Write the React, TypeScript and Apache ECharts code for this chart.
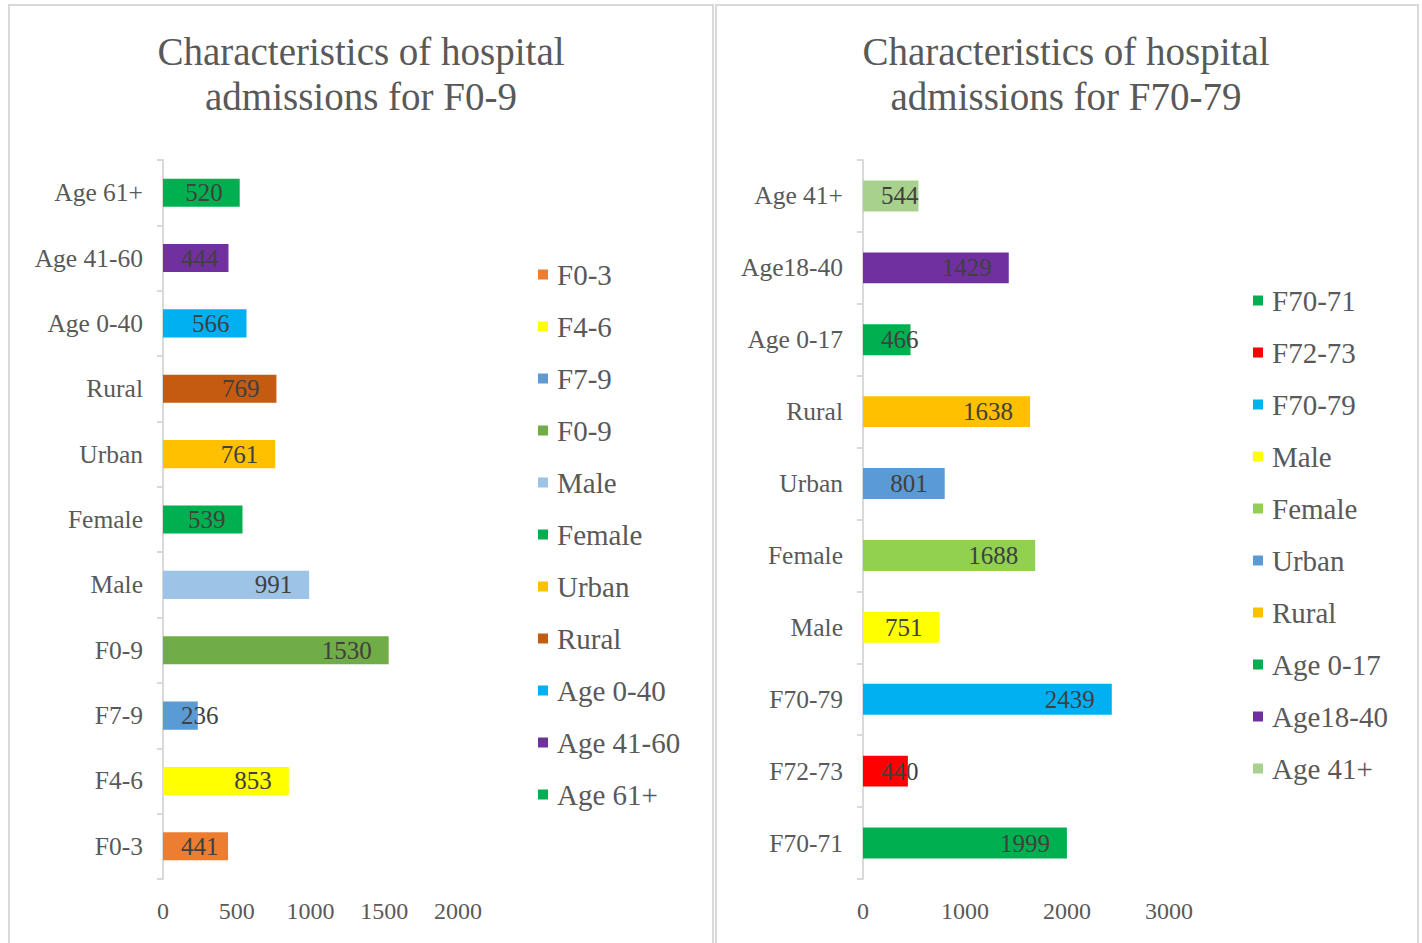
import React, { useEffect, useRef } from "react";
import * as echarts from "echarts";

const FONT = "Liberation Serif, Times New Roman, serif";

const leftTitle = "Characteristics of hospital\nadmissions for F0-9";
const leftCats = ["F0-3", "F4-6", "F7-9", "F0-9", "Male", "Female", "Urban", "Rural", "Age 0-40", "Age 41-60", "Age 61+"];
const leftValues = [441, 853, 236, 1530, 991, 539, 761, 769, 566, 444, 520];
const leftColors = ["#ED7D31", "#FFFF00", "#5B9BD5", "#70AD47", "#9DC3E6", "#00B050", "#FFC000", "#C55A11", "#00B0F0", "#7030A0", "#00B050"];
const leftTicks = [0, 500, 1000, 1500, 2000];

const rightTitle = "Characteristics of hospital\nadmissions for F70-79";
const rightCats = ["F70-71", "F72-73", "F70-79", "Male", "Female", "Urban", "Rural", "Age 0-17", "Age18-40", "Age 41+"];
const rightValues = [1999, 440, 2439, 751, 1688, 801, 1638, 466, 1429, 544];
const rightColors = ["#00B050", "#FF0000", "#00B0F0", "#FFFF00", "#92D050", "#5B9BD5", "#FFC000", "#00B050", "#7030A0", "#A9D18E"];
const rightTicks = [0, 1000, 2000, 3000];

type Cfg = {
  title: string;
  titleX: number;
  cats: string[];
  values: number[];
  colors: string[];
  ticks: number[];
  gridLeft: number;
  gridWidth: number;
  legendLeft: number;
  legendTop: number;
  border: { x: number; y: number; width: number; height: number };
};

const LABEL_FS = 25;

function buildOption(c: Cfg) {
  const max = c.ticks[c.ticks.length - 1];
  const interval = c.ticks[1] - c.ticks[0];
  const pxPerUnit = c.gridWidth / max;
  const series = c.cats.map((name, i) => {
    const v = c.values[i];
    const textW = String(v).length * LABEL_FS * 0.5;
    const fitsRight = v * pxPerUnit - 17 - textW >= 17;
    return {
      name,
      type: "bar",
      stack: "all",
      barWidth: "43%",
      itemStyle: { color: c.colors[i] },
      label: {
        show: true,
        position: fitsRight ? "insideRight" : "insideLeft",
        distance: fitsRight ? 17 : 18,
        color: "#404040",
        fontFamily: FONT,
        fontSize: LABEL_FS,
      },
      data: c.cats.map((_, j) => (j === i ? v : null)),
    };
  });
  return {
    animation: false,
    backgroundColor: "#ffffff",
    textStyle: { fontFamily: FONT },
    graphic: [
      {
        type: "rect",
        shape: c.border,
        style: { fill: "none", stroke: "#d9d9d9", lineWidth: 2 },
        z: -1,
      },
      {
        type: "text",
        x: c.titleX,
        y: 29,
        style: {
          text: c.title,
          align: "center",
          verticalAlign: "top",
          fontFamily: FONT,
          fontSize: 39,
          lineHeight: 45,
          fill: "#595959",
        },
      },
    ],
    legend: {
      orient: "vertical",
      left: c.legendLeft,
      top: c.legendTop,
      icon: "rect",
      itemWidth: 10,
      itemHeight: 10,
      itemGap: 23,
      data: c.cats.slice(),
      textStyle: { fontFamily: FONT, fontSize: 29, color: "#595959", padding: [0, 0, 0, 4] },
    },
    grid: { left: c.gridLeft, top: 160, width: c.gridWidth, height: 719 },
    xAxis: {
      type: "value",
      min: 0,
      max,
      interval,
      axisLine: { show: false },
      axisTick: { show: false },
      splitLine: { show: false },
      axisLabel: {
        color: "#595959",
        fontFamily: FONT,
        fontSize: 24,
        margin: 20,
        formatter: (v: number) => String(v),
      },
    },
    yAxis: {
      type: "category",
      data: c.cats,
      axisLine: { show: true, lineStyle: { color: "#d9d9d9", width: 2 } },
      axisTick: { show: true, length: 6, lineStyle: { color: "#d9d9d9", width: 2 } },
      axisLabel: { color: "#595959", fontFamily: FONT, fontSize: 25.5, margin: 20 },
    },
    series,
  };
}

const leftCfg: Cfg = {
  title: leftTitle,
  titleX: 361,
  cats: leftCats,
  values: leftValues,
  colors: leftColors,
  ticks: leftTicks,
  gridLeft: 163,
  gridWidth: 295,
  legendLeft: 533,
  legendTop: 255,
  border: { x: 9, y: 5, width: 704, height: 960 },
};

const rightCfg: Cfg = {
  title: rightTitle,
  titleX: 352,
  cats: rightCats,
  values: rightValues,
  colors: rightColors,
  ticks: rightTicks,
  gridLeft: 149,
  gridWidth: 306,
  legendLeft: 534,
  legendTop: 281,
  border: { x: 2, y: 5, width: 702, height: 960 },
};

function Panel({ cfg, left, width }: { cfg: Cfg; left: number; width: number }) {
  const ref = useRef<HTMLDivElement>(null);
  useEffect(() => {
    if (!ref.current) return;
    const chart = echarts.init(ref.current, undefined, { renderer: "svg" });
    chart.setOption(buildOption(cfg) as any);
    return () => chart.dispose();
  }, [cfg]);
  return <div ref={ref} style={{ position: "absolute", left, top: 0, width, height: 943 }} />;
}

export default function App() {
  return (
    <div style={{ position: "absolute", left: 0, top: 0, width: 1422, height: 943, background: "#fff", overflow: "hidden" }}>
      <Panel cfg={leftCfg} left={0} width={714} />
      <Panel cfg={rightCfg} left={714} width={708} />
    </div>
  );
}
